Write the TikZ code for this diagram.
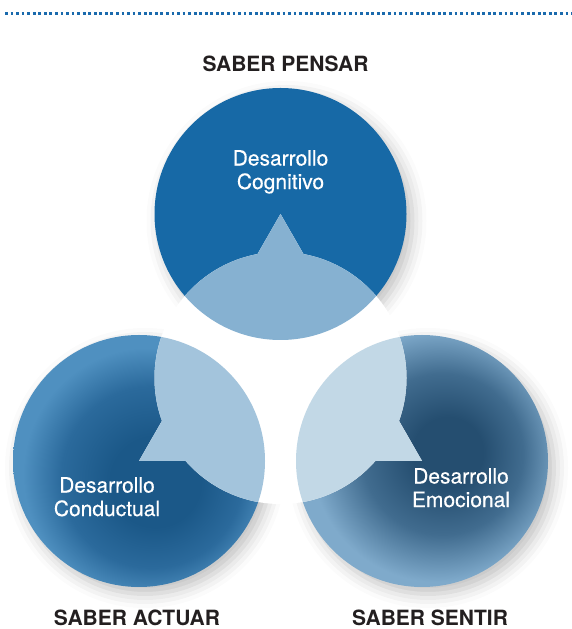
\documentclass[tikz,border=0pt]{standalone}
\usepackage{fontspec}
\setmainfont{TeX Gyre Heros}
\newfontfamily\saberfont[FakeBold=0.35]{TeX Gyre Heros}
\usepackage{tikz}
\usetikzlibrary{calc, positioning, shadows.blur}

\definecolor{pensarBlue}{HTML}{1769A6}
\definecolor{actuarDark}{HTML}{1B5888}
\definecolor{actuarMid}{HTML}{2B6A9C}
\definecolor{actuarLight}{HTML}{4F90C0}
\definecolor{sentirDark}{HTML}{254E70}
\definecolor{sentirMid}{HTML}{416C8F}
\definecolor{sentirLight}{HTML}{7FAACB}
\definecolor{pensarSoft}{HTML}{86B1D1}
\definecolor{actuarSoft}{HTML}{A3C4DC}
\definecolor{sentirSoft}{HTML}{C2D8E6}
\definecolor{ruleBlue}{HTML}{1A6AAD}
\definecolor{labelInk}{HTML}{231F20}

\pgfdeclareradialshading{actuarShade}{\pgfpoint{4bp}{-5bp}}{color(0bp)=(actuarDark); color(9bp)=(actuarDark); color(18bp)=(actuarMid); color(25bp)=(actuarLight); color(50bp)=(actuarLight)}
\pgfdeclareradialshading{sentirShade}{\pgfpoint{6bp}{2bp}}{color(0bp)=(sentirDark); color(7bp)=(sentirDark); color(16bp)=(sentirMid); color(25bp)=(sentirLight); color(50bp)=(sentirLight)}

\tikzset{
  saberCircle/.style={
    circle, minimum size=252pt, inner sep=0pt, outer sep=0pt,
    blur shadow={shadow xshift=6pt, shadow yshift=-7pt, shadow blur radius=14pt, shadow opacity=25}
  },
  saberText/.style={
    text=white, align=center, inner sep=0pt, anchor=north,
    font=\saberfont\fontsize{21}{23.5}\selectfont
  },
  saberLabel/.style={
    text=labelInk, inner sep=0pt,
    font=\bfseries\fontsize{21}{23.5}\selectfont
  }
}

\begin{document}
\begin{tikzpicture}[x=1pt, y=1pt]
\useasboundingbox (0,0) rectangle (572,629);
% dotted rule at the top
\coordinate (ruleL) at (5,615);
\coordinate (ruleR) at (572,615);
\draw[ruleBlue, line width=3pt, dash pattern=on 2.8pt off 2.75pt] (ruleL) -- (ruleR);

% the three circles
\node[saberCircle, fill=pensarBlue] (pensar) at (280.5,415) {};
\node[saberCircle, shading=actuarShade] (actuar) at (139,168) {};
\node[saberCircle, shading=sentirShade] (sentir) at (422,168) {};

% centre: circle plus triangle through the three centres
\coordinate (hub) at (280.5,251);
\fill[white] (hub) circle (126pt) (pensar.center) -- (actuar.center) -- (sentir.center) -- cycle;
\foreach \lobe/\soft in {pensar/pensarSoft, actuar/actuarSoft, sentir/sentirSoft}{
  \begin{scope}
    \clip (\lobe.center) circle (126pt);
    \fill[\soft] (hub) circle (126pt) (pensar.center) -- (actuar.center) -- (sentir.center) -- cycle;
  \end{scope}
}

\node[saberText] (cognitivo) at ($(pensar.center)+(0,64)$) {Desarrollo\\Cognitivo};
\node[saberText] (conductual) at ($(actuar.center)+(-32,-16)$) {Desarrollo\\Conductual};
\node[saberText] (emocional) at ($(sentir.center)+(39,-7)$) {Desarrollo\\Emocional};

\node[saberLabel, above=16pt of pensar, xshift=5pt] (lblPensar) {SABER PENSAR};
\node[saberLabel, below=23pt of actuar, xshift=-2pt] (lblActuar) {SABER ACTUAR};
\node[saberLabel, below=23pt of sentir, xshift=8pt] (lblSentir) {SABER SENTIR};
\end{tikzpicture}
\end{document}
